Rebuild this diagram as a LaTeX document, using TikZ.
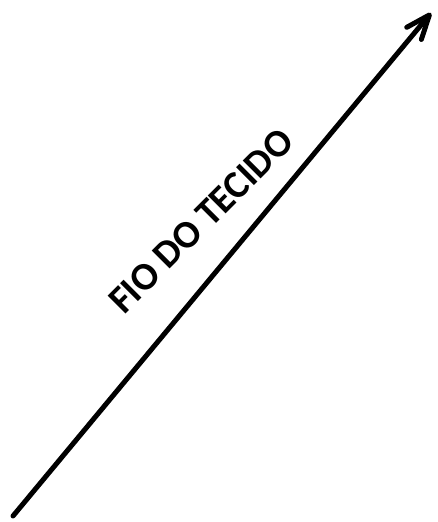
\documentclass[tikz,border=0pt]{standalone}
\usepackage{fontspec}
\setmainfont{Carlito}
\usetikzlibrary{arrows.meta}
\tikzset{
  grain/.style={line width=5pt, line cap=round, line join=round,
    -{Straight Barb[length=24pt,width=19pt,line cap=round,line join=round]}},
  lbl/.style={font=\bfseries\fontsize{39}{41}\selectfont, rotate=45, inner sep=0pt}
}
\begin{document}
\begin{tikzpicture}[x=1pt,y=-1pt]
\useasboundingbox (0,0) rectangle (438,522);
\coordinate (start) at (13,516);
\coordinate (tip) at (431,13);
\draw[grain] (start) -- (tip);
\node[lbl] (label) at (201,221) {FIO DO TECIDO};
\end{tikzpicture}
\end{document}
